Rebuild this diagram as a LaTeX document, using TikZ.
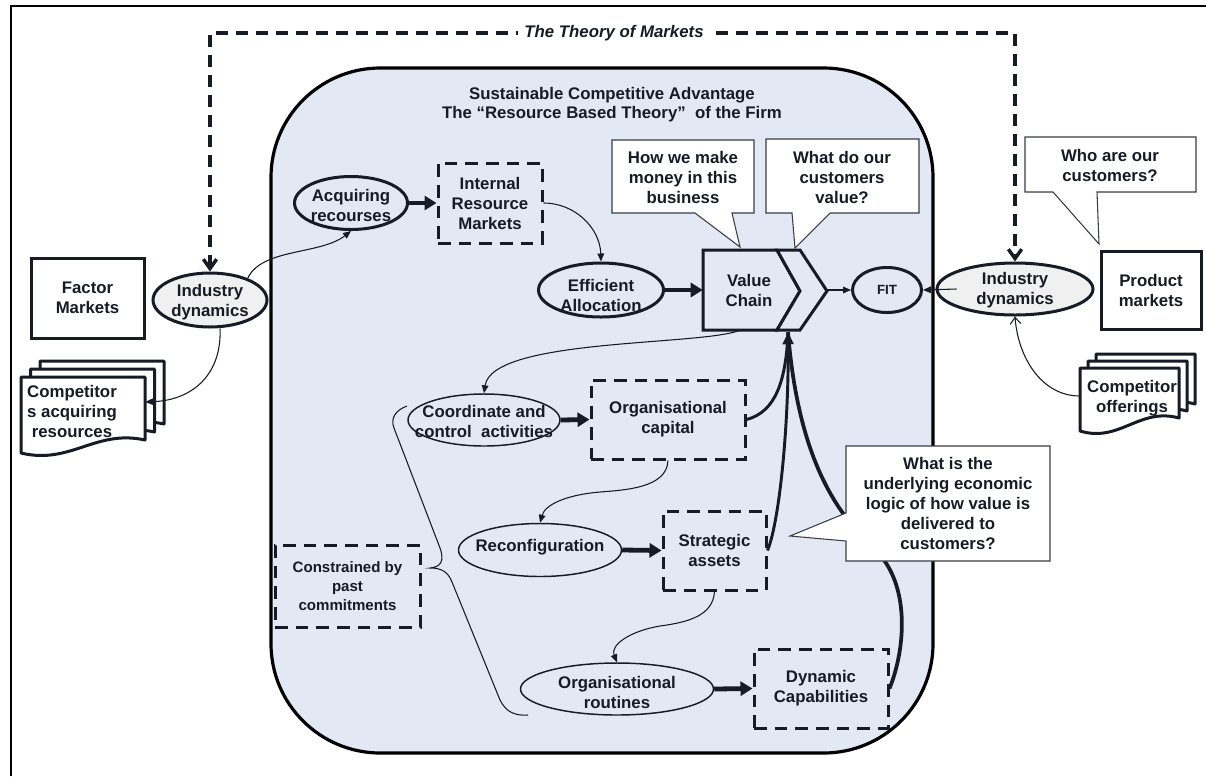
\documentclass[tikz,border=0pt]{standalone}
\usepackage{fontspec}
\setmainfont{Liberation Sans}
\usetikzlibrary{shapes.geometric,arrows.meta}
\definecolor{bgblue}{RGB}{226,233,244}
\definecolor{ink}{RGB}{22,27,38}
\definecolor{ellgray}{RGB}{240,240,240}
\begin{document}
\begin{tikzpicture}[x=0.75pt,y=-0.75pt,
  txt/.style={font=\bfseries\fontsize{12.6}{15}\selectfont,align=center,text=ink,inner sep=0pt},
  smalltxt/.style={font=\bfseries\fontsize{11.3}{14}\selectfont,align=center,text=ink,inner sep=0pt},
  ellthick/.style={ellipse,draw=ink,line width=2.25pt,fill=bgblue,inner sep=0pt},
  ellthin/.style={ellipse,draw=ink,line width=1.1pt,fill=bgblue,inner sep=0pt},
  ellgrey/.style={ellipse,draw=ink,line width=2.25pt,fill=ellgray,inner sep=0pt},
  dbox/.style={rectangle,draw=ink,line width=2.25pt,dash pattern=on 9.5pt off 6pt,inner sep=0pt,fill=bgblue},
  sbox/.style={rectangle,draw=ink,line width=2.25pt,fill=white,inner sep=0pt},
  ghost/.style={rectangle,inner sep=0pt},
  bigarrow/.style={draw=ink,line width=3.6pt,-{Triangle[length=9pt,width=10.5pt]}},
  thinarrow/.style={draw=ink,line width=0.8pt,-{Triangle[length=6pt,width=5pt]}},
  openarrow/.style={draw=ink,line width=0.8pt,-{Straight Barb[length=5pt,width=8pt]}},
  feed/.style={draw=ink,line width=2.2pt},
  callout/.style={draw=ink!85,line width=0.8pt,fill=white},
  doc/.style={draw=ink,line width=2.25pt,fill=white,line join=round},
  tomline/.style={draw=ink,line width=2.6pt,dash pattern=on 9pt off 6pt}
]
\useasboundingbox (0,0) rectangle (1206,776);
\fill[white] (0,0) rectangle (1206,776);
% frame
\draw[black,line width=1.3pt] (11,776) -- (11,6) -- (1206,6);
% big rounded region
\draw[draw=black,line width=2.4pt,fill=bgblue,rounded corners=82pt] (271,68) rectangle (933,753);
\node[txt,font=\bfseries\fontsize{12.6}{14.3}\selectfont] (title) at (612,104.5) {Sustainable Competitive Advantage\\The “Resource Based Theory”\ \ of the Firm};

% left side
\node[sbox,txt,minimum width=84.75pt,minimum height=60pt] (fac) at (87.5,298) {Factor\\Markets};
\node[ellgrey,minimum width=85.5pt,minimum height=40.5pt] (indL) at (210,300) {};
\node[txt] (indLt) at (210,302) {Industry\\dynamics};
\draw[doc] (40,361) -- (164,361) -- (164,424) .. controls (114.4,413) and (89.6,449) .. (40,437) -- cycle;
\draw[doc] (30.5,369) -- (154.5,369) -- (154.5,432) .. controls (104.9,421) and (80.1,457) .. (30.5,445) -- cycle;
\draw[doc] (21,377) -- (145,377) -- (145,440) .. controls (95.4,429) and (70.6,465) .. (21,453) -- cycle;
\node[ghost,minimum width=93pt,minimum height=50pt] (compL) at (83,410) {};
\node[txt] (compLt) at (72,411) {Competitor\\s acquiring\\resources};

% right side
\node[sbox,txt,minimum width=75pt,minimum height=58.5pt] (prod) at (1151,290) {Product\\markets};
\node[ellgrey,minimum width=117pt,minimum height=39pt] (indR) at (1015,289) {};
\node[txt] (indRt) at (1015,290.5) {Industry\\dynamics};
\draw[doc] (1096,354) -- (1195,354) -- (1195,404) .. controls (1155.4,393) and (1135.6,429) .. (1096,417) -- cycle;
\draw[doc] (1088,361) -- (1187,361) -- (1187,411) .. controls (1147.4,400) and (1127.6,436) .. (1088,424) -- cycle;
\draw[doc] (1080,368) -- (1179,368) -- (1179,418) .. controls (1139.4,407) and (1119.6,443) .. (1080,431) -- cycle;
\node[ghost,minimum width=74.25pt,minimum height=42pt] (compR) at (1129.5,396) {};
\node[txt] (compRt) at (1132,398) {Competitor\\offerings};

% theory of markets
\coordinate (tl) at (210,33);
\coordinate (tr) at (1015,33);
\draw[tomline,{Straight Barb[length=7pt,width=10pt]}-{Straight Barb[length=7pt,width=10pt]}] (indL.north) -- (tl) -- (tr) -- (indR.north);
\node[fill=white,font=\bfseries\itshape\fontsize{12.6}{15}\selectfont,text=ink,inner xsep=5pt,inner ysep=2pt] (tom) at (614,33) {The Theory of Markets};

% brace
\draw[ink,line width=0.8pt] (407,406) .. controls (396,410) and (390,418) .. (394,428) -- (440,548) .. controls (445,562) and (440,567) .. (430,568) .. controls (442,568) and (448,572) .. (452,582) -- (500,700) .. controls (506,712) and (515,716) .. (528,715);
\node[dbox,smalltxt,minimum width=108.75pt,minimum height=61.5pt] (con) at (347.5,586) {Constrained by\\past\\commitments};

% upper flow
\node[ellthick,minimum width=84.75pt,minimum height=39.75pt] (acq) at (351,203) {};
\node[txt] (acqt) at (351,205) {Acquiring\\recourses};
\node[dbox,txt,minimum width=78pt,minimum height=60pt] (irm) at (490,203) {Internal\\Resource\\Markets};
\node[ellthick,minimum width=93.75pt,minimum height=40.5pt] (eff) at (601,290) {};
\node[txt] (efft) at (601,295) {Efficient\\Allocation};
\draw[ink,line width=2.25pt,fill=bgblue,line join=miter] (703,250) -- (777,250) -- (800,291) -- (777,330) -- (703,330) -- cycle;
\draw[ink,line width=2.25pt,fill=bgblue,line join=miter] (777,250) -- (800,250) -- (827,291) -- (800,330) -- (777,330) -- (800,291) -- cycle;
\node[ghost,minimum width=93pt,minimum height=60pt] (vc) at (765,290) {};
\node[txt] (vct) at (749,290.5) {Value\\Chain};
\node[ellthick,minimum width=51.75pt,minimum height=33.75pt] (fit) at (887,290) {};
\node[txt,font=\bfseries\fontsize{10}{12}\selectfont] (fitt) at (887,290) {FIT};

% lower flow
\node[ellthin,minimum width=114pt,minimum height=39pt] (coord) at (484,420) {};
\node[txt] (coordt) at (484,421) {Coordinate and\\control\ \ activities};
\node[dbox,txt,minimum width=115.5pt,minimum height=59.25pt] (orgc) at (668,419.5) {Organisational\\capital};
\node[ellthin,minimum width=122.25pt,minimum height=39.75pt] (rec) at (540,550) {};
\node[txt] (rect) at (540,547) {Reconfiguration};
\node[dbox,txt,minimum width=77.25pt,minimum height=59.25pt] (str) at (714.5,550.5) {Strategic\\assets};
\node[ellthin,minimum width=144.75pt,minimum height=39pt] (rout) at (617,689) {};
\node[txt] (routt) at (617,692) {Organisational\\routines};
\node[dbox,txt,minimum width=100.5pt,minimum height=59.25pt] (dyn) at (821,688.5) {Dynamic\\Capabilities};

% connectors
\draw[thinarrow] (indL.30) .. controls (262,248) and (320,255) .. (acq.south);
\draw[thinarrow] ([xshift=7.5pt]indL.south) .. controls (222,372) and (195,400) .. ([yshift=6pt]compL.east);
\draw[bigarrow] (acq.east) -- (irm.west);
\draw[thinarrow] (irm.east) .. controls (575,203) and (600,228) .. (eff.north);
\draw[bigarrow] (eff.east) -- (vc.west);
\draw[thinarrow] (vc.east) -- (fit.west);
\draw[thinarrow] ([xshift=15.75pt]indR.west) -- (fit.east);
\draw[openarrow] (compR.west) .. controls (1042,396) and (1018,358) .. (indR.south);
\draw[thinarrow] ([xshift=-18.75pt]vc.south) .. controls (700,346) and (492,338) .. (coord.north);
\draw[bigarrow] (coord.east) -- (orgc.west);
\draw[thinarrow] (orgc.south) .. controls (667,488) and (625,490) .. (600,492) .. controls (565,495) and (545,505) .. (rec.north);
\draw[bigarrow] (rec.east) -- (str.west);
\draw[thinarrow] (str.south) .. controls (713,615) and (690,622) .. (660,626) .. controls (630,631) and (610,645) .. (rout.north);
\draw[bigarrow] (rout.east) -- (dyn.west);

\coordinate (vcin) at ([xshift=17.25pt,yshift=-1.5pt]vc.south);
\draw[feed] (orgc.east) .. controls (776,412) and (786,380) .. (vcin);
\draw[feed,line width=2.8pt] (dyn.east) .. controls (905,650) and (910,590) .. (880,555) .. controls (850,525) and (800,480) .. (vcin);
\draw[feed,-{Triangle[length=9pt,width=8pt]}] (str.east) .. controls (780,520) and (789,420) .. (vcin);

% callouts
\draw[callout] (612,140) -- (754,140) -- (754,213) -- (732,213) -- (740,247) -- (695,213) -- (612,213) -- cycle;
\node[txt] (qa) at (683,177) {How we make\\money in this\\business};
\draw[callout] (766,139) -- (919,139) -- (919,213) -- (830,213) -- (795,248) -- (792,213) -- (766,213) -- cycle;
\node[txt] (qb) at (842,177) {What do our\\customers\\value?};
\draw[callout] (1025,137) -- (1196,137) -- (1196,192) -- (1097,192) -- (1099,244) -- (1053,192) -- (1025,192) -- cycle;
\node[txt] (qc) at (1110,165) {Who are our\\customers?};
\draw[callout] (846,446) -- (1050,446) -- (1050,561) -- (846,561) -- (846,541) -- (790,536) -- (846,513) -- cycle;
\node[txt] (qd) at (948,503.5) {What is the\\underlying economic\\logic of how value is\\delivered to\\customers?};
\end{tikzpicture}
\end{document}
